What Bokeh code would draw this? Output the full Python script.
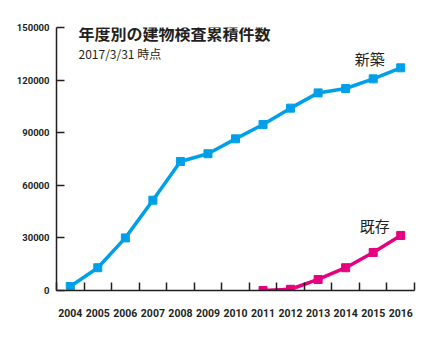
from bokeh.plotting import figure
from bokeh.models import FixedTicker, Label
from bokeh.embed import file_html
from bokeh.resources import INLINE

years_new = [2004, 2005, 2006, 2007, 2008, 2009, 2010, 2011, 2012, 2013, 2014, 2015, 2016]
values_new = [2300, 13000, 30000, 51500, 73600, 78000, 86500, 94700, 104000, 112700, 115200, 120700, 127000]
years_old = [2011, 2012, 2013, 2014, 2015, 2016]
values_old = [0, 700, 6300, 13000, 21700, 31400]
y_ticks = [0, 30000, 60000, 90000, 120000, 150000]
title_text = "年度別の建物検査累積件数"
subtitle_text = "2017/3/31 時点"
label_new = "新築"
label_old = "既存"

BLUE = "#00a0e9"
PINK = "#e4007f"
DARK = "#231f20"
NUM_FONT = "Roboto"

p = figure(width=439, height=337, output_backend="svg", toolbar_location=None,
           x_range=(2003.5, 2016.5), y_range=(0, 150000),
           min_border_left=56, min_border_right=25, min_border_top=27, min_border_bottom=47)
p.outline_line_color = None
p.xgrid.visible = False
p.ygrid.visible = False
p.background_fill_color = "white"
p.border_fill_color = "white"

# x axis
xa = p.xaxis[0]
xa.ticker = FixedTicker(ticks=years_new, minor_ticks=[y - 0.5 for y in years_new] + [years_new[-1] + 0.5])
xa.major_tick_line_color = None
xa.minor_tick_in = 8
xa.minor_tick_out = 0
xa.minor_tick_line_color = DARK
xa.minor_tick_line_width = 1.5
xa.axis_line_color = DARK
xa.axis_line_width = 1.5
xa.major_label_text_font = NUM_FONT
xa.major_label_text_font_style = "bold"
xa.major_label_text_font_size = "10.5px"
xa.major_label_text_color = DARK
xa.major_label_standoff = 12

# y axis
ya = p.yaxis[0]
ya.ticker = FixedTicker(ticks=y_ticks)
ya.formatter.use_scientific = False
ya.major_tick_in = 8
ya.major_tick_out = 0
ya.minor_tick_line_color = None
ya.major_tick_line_color = DARK
ya.major_tick_line_width = 1.5
ya.axis_line_color = DARK
ya.axis_line_width = 1.5
ya.major_label_text_font = NUM_FONT
ya.major_label_text_font_style = "bold"
ya.major_label_text_font_size = "9.5px"
ya.major_label_text_color = DARK
ya.major_label_standoff = 7

p.line(years_new, values_new, line_color=BLUE, line_width=3.5)
p.scatter(years_new, values_new, marker="square", size=8, fill_color=BLUE, line_color=BLUE)
p.line(years_old, values_old, line_color=PINK, line_width=3.5)
p.scatter(years_old, values_old, marker="square", size=8, fill_color=PINK, line_color=PINK)

# title / subtitle (screen units are relative to the plot frame)
p.add_layout(Label(x=22, y=257.5, x_units="screen", y_units="screen", text=title_text,
                   text_font="Noto Sans CJK JP", text_font_style="bold", text_font_size="16px",
                   text_color=DARK, text_baseline="middle"))
p.add_layout(Label(x=22, y=237.5, x_units="screen", y_units="screen", text=subtitle_text,
                   text_font="Noto Sans CJK JP", text_font_size="12px",
                   text_color=DARK, text_baseline="middle"))
p.add_layout(Label(x=years_new[-1], y=values_new[-1], x_offset=-31, y_offset=-1, text=label_new,
                   text_font="Noto Sans CJK JP", text_font_size="15px",
                   text_color=DARK, text_align="center", text_baseline="bottom"))
p.add_layout(Label(x=years_old[-1], y=values_old[-1], x_offset=-26, y_offset=-1, text=label_old,
                   text_font="Noto Sans CJK JP", text_font_size="15px",
                   text_color=DARK, text_align="center", text_baseline="bottom"))

open("out.html", "w").write(file_html(p, INLINE))
